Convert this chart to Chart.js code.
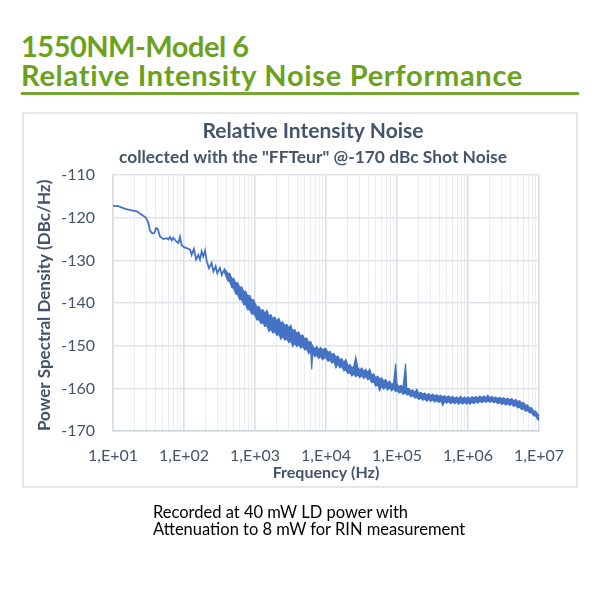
<!DOCTYPE html>
<html>
<head>
<meta charset="utf-8">
<script src="https://cdn.jsdelivr.net/npm/chart.js@4.4.1/dist/chart.umd.min.js"></script>
<style>
html,body{margin:0;padding:0;background:#fff;}
body{width:600px;height:600px;position:relative;overflow:hidden;}
#head{position:absolute;left:21px;top:31px;color:#6aa21e;font-family:Lato,sans-serif;font-weight:bold;font-size:29px;line-height:29px;white-space:nowrap;}
#head .l1{letter-spacing:-0.5px;}
#head .l2{letter-spacing:0.7px;}
#rule{position:absolute;left:21px;top:92px;width:558px;height:3px;background:#74a832;}
#box{position:absolute;left:22px;top:112px;width:556px;height:376px;border:2px solid #e3e6eb;box-sizing:border-box;}
#c{position:absolute;left:0;top:0;}
#foot{position:absolute;left:153px;top:504px;font-family:Lato,sans-serif;font-size:16.5px;line-height:17px;color:#000;white-space:nowrap;}
</style>
</head>
<body>
<div id="head"><span class="l1">1550NM-Model 6</span><br><span class="l2">Relative Intensity Noise Performance</span></div>
<div id="rule"></div>
<div id="box"></div>
<canvas id="c" width="600" height="600"></canvas>
<div id="foot">Recorded at 40 mW LD power with<br>Attenuation to 8 mW for RIN measurement</div>
<script>
// ---- data (frequency in Hz, RIN in dBc/Hz) ----
// low-frequency trace (single line)
const freqLow = [10,11.9,14.8,18.3,21.6,25.4,29.2,31.4,33.2,35.8,38.2,40.4,42.7,45.9,51.1,57,60.1,63.5,67.1,70.7,77.1,83.2,87.9,92.9,100,111,122,128,138,148,159,168,177,187,198,209,225,245,259,279,294,321,340,366];
const rinLow = [-117.2,-117.3,-117.9,-118.3,-118.5,-119.3,-120.0,-121.2,-123.0,-123.7,-123.6,-122.4,-122.6,-124.4,-125.0,-124.8,-125.1,-124.5,-125.3,-124.7,-125.5,-125.9,-124.5,-126.5,-126.9,-127.2,-127.5,-128.7,-127.3,-129.8,-128.7,-129.8,-127.9,-129.1,-127.7,-130.2,-131.8,-130.6,-132.6,-131.4,-133.0,-131.8,-133.4,-132.2];

// noisy part of the trace: upper and lower edge of the noise band
const freqD2 = [366,413,440,470,501,535,570,608,649,692,738,787,840,896,956];
const rinMaxD2 = [-131.8,-133.0,-133.0,-134.2,-134.2,-135.3,-135.2,-136.3,-136.2,-137.3,-137.2,-138.3,-138.2,-139.3,-139.2];
const rinMinD2 = [-132.6,-134.8,-135.0,-136.4,-136.6,-137.9,-138.0,-139.2,-139.2,-140.4,-140.4,-141.6,-141.5,-142.6,-142.5];

const freqD3 = [1000,1070,1140,1210,1290,1380,1470,1570,1670,1780,1900,2030,2170,2310,2460,2630,2800,2990,3190,3400,3630,3870,4130,4400,4700,5010,5350,5700,6080,6300,6490,6920,7380,7870,8400,8960,9560];
const rinMaxD3 = [-140.0,-141.0,-140.8,-141.8,-141.5,-142.4,-141.7,-143.0,-142.7,-143.6,-143.3,-144.2,-143.6,-144.7,-144.4,-145.3,-145.0,-145.8,-145.2,-146.5,-146.2,-147.1,-146.8,-147.7,-147.5,-148.4,-148.2,-149.2,-149.0,-149.6,-150.0,-150.8,-150.2,-150.9,-150.4,-151.1,-150.6];
const rinMinD3 = [-143.0,-144.0,-143.9,-144.8,-144.6,-145.5,-145.3,-146.7,-146.1,-147.0,-146.7,-147.6,-147.3,-148.5,-147.8,-148.7,-148.4,-149.3,-148.9,-150.2,-149.4,-150.2,-149.8,-150.6,-150.2,-151.0,-150.7,-151.9,-151.2,-155.6,-151.6,-152.6,-152.2,-153.0,-152.5,-153.3,-152.8];

const freqD4 = [10000,10700,11400,12100,12900,13800,14700,15700,16700,17800,19000,20300,21700,23100,24600,26300,28000,29900,31900,34000,36300,38700,41300,44000,47000,50100,53500,57000,60800,64900,69200,73800,78700,84000,89600,95600];
const rinMaxD4 = [-150.7,-151.6,-151.3,-152.1,-151.8,-152.7,-152.4,-153.3,-153.0,-154.0,-153.2,-154.7,-154.4,-155.2,-154.8,-152.6,-155.0,-155.7,-155.2,-156.0,-155.5,-156.3,-155.5,-156.9,-156.6,-157.5,-157.1,-157.9,-157.5,-158.3,-157.9,-158.7,-158.3,-159.1,-158.7,-154.2];
const rinMinD4 = [-152.9,-153.7,-153.3,-154.1,-153.7,-155.2,-154.3,-155.2,-154.9,-155.9,-155.7,-156.6,-156.3,-157.1,-156.6,-157.3,-156.8,-157.5,-157.0,-157.7,-157.2,-158.0,-157.7,-158.7,-158.5,-159.5,-159.2,-160.6,-159.5,-160.2,-159.7,-160.4,-159.9,-160.6,-160.1,-160.8];

const freqD5 = [100000,107000,114000,121000,132000,138000,147000,157000,167000,178000,190000,203000,217000,231000,246000,263000,280000,299000,319000,340000,363000,387000,413000,440000,470000,501000,535000,570000,608000,649000,692000,738000,787000,840000,896000,956000];
const rinMaxD5 = [-159.0,-159.6,-159.3,-159.9,-154.2,-160.2,-160.0,-160.6,-160.4,-161.0,-160.2,-161.2,-160.9,-161.4,-161.1,-161.6,-161.2,-161.7,-161.3,-161.8,-161.5,-161.9,-161.6,-162.0,-161.7,-162.1,-161.8,-162.2,-161.9,-162.3,-162.0,-162.4,-161.8,-162.4,-162.0,-162.4];
const rinMinD5 = [-160.5,-161.1,-160.8,-161.4,-161.1,-161.6,-161.4,-162.0,-161.7,-162.3,-162.1,-162.6,-162.3,-162.8,-162.5,-163.0,-162.6,-163.1,-162.7,-163.2,-162.9,-163.3,-163.0,-164.0,-163.1,-163.5,-163.1,-163.6,-163.2,-163.6,-163.2,-163.7,-163.3,-163.7,-163.3,-163.7];

const freqD6 = [1.00e6,1.07e6,1.14e6,1.21e6,1.29e6,1.38e6,1.47e6,1.57e6,1.67e6,1.78e6,1.90e6,2.03e6,2.17e6,2.31e6,2.46e6,2.63e6,2.80e6,2.99e6,3.19e6,3.40e6,3.63e6,3.87e6,4.13e6,4.40e6,4.70e6,5.01e6,5.35e6,5.70e6,6.08e6,6.49e6,6.92e6,7.38e6,7.87e6,8.40e6,8.96e6,9.56e6,1.00e7];
const rinMaxD6 = [-162.0,-162.4,-161.9,-162.3,-161.9,-162.2,-161.8,-162.2,-161.8,-162.2,-161.6,-162.2,-161.9,-162.3,-162.0,-162.4,-162.1,-162.5,-162.2,-162.6,-162.3,-162.7,-162.4,-162.9,-162.6,-163.1,-162.9,-163.5,-163.3,-164.0,-163.9,-164.6,-164.5,-165.3,-165.3,-166.1,-166.2];
const rinMinD6 = [-163.3,-163.7,-163.2,-163.6,-163.1,-163.5,-163.0,-163.4,-163.0,-163.3,-162.9,-163.3,-163.0,-163.4,-163.1,-163.6,-163.3,-163.8,-163.5,-163.9,-163.6,-164.0,-163.7,-164.2,-164.0,-164.6,-164.4,-165.0,-164.8,-165.4,-165.2,-165.8,-165.7,-166.5,-166.5,-167.3,-167.5];

// ---- axes / text ----
const decadeValues = [1e1,1e2,1e3,1e4,1e5,1e6,1e7];
const decadeLabels = ['1,E+01','1,E+02','1,E+03','1,E+04','1,E+05','1,E+06','1,E+07'];
const yMin = -170, yMax = -110, yStep = 10;

const chartTitle = 'Relative Intensity Noise';
const chartSubtitle = 'collected with the "FFTeur" @-170 dBc Shot Noise';
const xTitle = 'Frequency (Hz)';
const yTitle = 'Power Spectral Density (DBc/Hz)';

function zip(fs, vs){ const out=[]; const n=Math.min(fs.length, vs.length); for(let k=0;k<n;k++) out.push({x:fs[k], y:vs[k]}); return out; }
const bandF = [freqD2,freqD3,freqD4,freqD5,freqD6];
const bandMax = [rinMaxD2,rinMaxD3,rinMaxD4,rinMaxD5,rinMaxD6];
const bandMin = [rinMinD2,rinMinD3,rinMinD4,rinMinD5,rinMinD6];
const lowPts = zip(freqLow, rinLow);
const maxPts = [].concat(...bandF.map((f,i)=>zip(f, bandMax[i])));
const minPts = [].concat(...bandF.map((f,i)=>zip(f, bandMin[i])));

const textColor = '#44546a';
const lineColor = '#4472c4';
const isMajor = v => decadeValues.indexOf(v) >= 0;

new Chart(document.getElementById('c'), {
  type: 'line',
  data: { datasets: [
    { data: lowPts, borderColor: lineColor, borderWidth: 1.8, pointRadius: 0, tension: 0, fill: false },
    { data: maxPts, borderColor: lineColor, borderWidth: 1.1, pointRadius: 0, tension: 0, fill: false },
    { data: minPts, borderColor: lineColor, borderWidth: 1.1, pointRadius: 0, tension: 0, fill: '-1', backgroundColor: lineColor }
  ]},
  options: {
    responsive: false,
    animation: false,
    events: [],
    layout: { padding: { left: 40, right: 14, top: 119, bottom: 113 } },
    plugins: {
      legend: { display: false },
      tooltip: { enabled: false },
      title: { display: true, text: chartTitle, color: textColor,
        font: { family: 'Lato', size: 21, weight: 'bold', lineHeight: 1.2 },
        padding: { top: 0, bottom: 2.9 } },
      subtitle: { display: true, text: chartSubtitle, color: textColor,
        font: { family: 'Lato', size: 17.4, weight: 'bold', lineHeight: 1.2 },
        padding: { top: 0, bottom: 7.1 } }
    },
    scales: {
      x: {
        type: 'logarithmic',
        min: decadeValues[0],
        max: decadeValues[decadeValues.length-1],
        afterBuildTicks: (scale) => {
          const t = [];
          decadeValues.forEach((d,i) => {
            t.push({value: d});
            if (i < decadeValues.length-1) for (let m=2;m<=9;m++) t.push({value: d*m});
          });
          scale.ticks = t;
        },
        afterFit: (scale) => { scale.height = 56; },
        ticks: {
          autoSkip: false, maxRotation: 0, minRotation: 0, padding: 15,
          color: textColor, font: { family: 'Lato', size: 16 },
          callback: (v) => { const i = decadeValues.indexOf(v); return i >= 0 ? decadeLabels[i] : ''; }
        },
        grid: {
          drawTicks: false,
          color: (ctx) => (ctx.tick && isMajor(ctx.tick.value)) ? '#d9dde5' : '#eaedf2',
          lineWidth: (ctx) => (ctx.tick && isMajor(ctx.tick.value)) ? 1.6 : 1
        },
        border: { color: '#cfd4dc', width: 1.5 },
        title: { display: true, text: xTitle, color: textColor,
          font: { family: 'Lato', size: 16, weight: 'bold', lineHeight: 1 },
          padding: { top: 0, bottom: 6 } }
      },
      y: {
        position: 'left',
        min: yMin, max: yMax,
        afterFit: (scale) => { scale.width = 73; },
        ticks: { stepSize: yStep, padding: 18, color: textColor, font: { family: 'Lato', size: 16 } },
        grid: { drawTicks: false, color: '#e1e5eb', lineWidth: 1.6 },
        border: { color: '#d9dde5', width: 1.5 },
        title: { display: true, text: yTitle, color: textColor, align: 'start',
          font: { family: 'Lato', size: 17, weight: 'bold', lineHeight: 1 },
          padding: { top: -3.5, bottom: 0 } }
      },
      yRight: {
        position: 'right',
        min: yMin, max: yMax,
        afterFit: (scale) => { scale.width = 47; },
        ticks: { display: false },
        grid: { display: false, drawOnChartArea: false },
        border: { display: false }
      }
    }
  }
});
</script>
</body>
</html>
